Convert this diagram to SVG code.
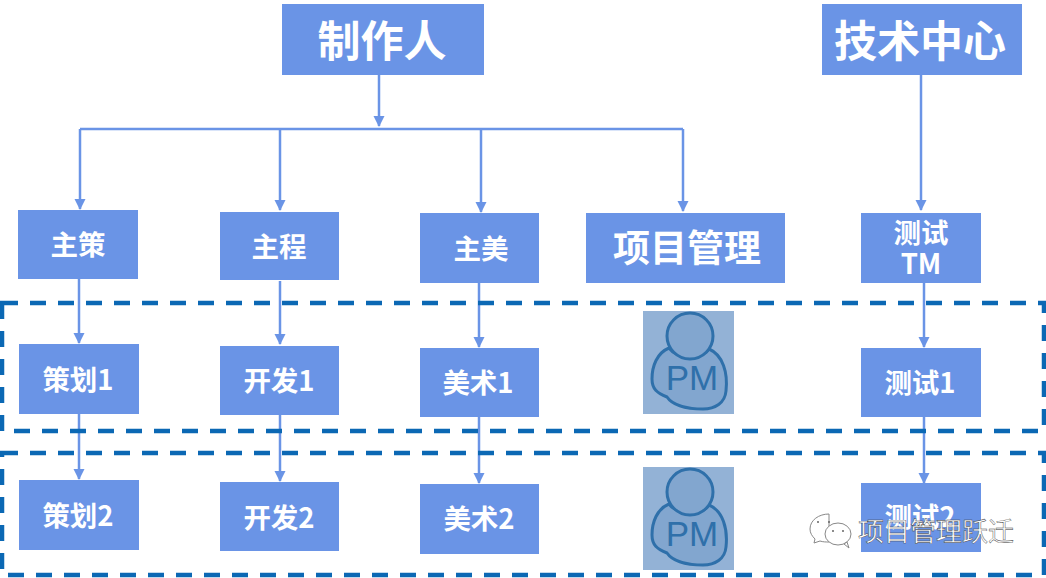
<svg xmlns="http://www.w3.org/2000/svg" width="1046" height="578" viewBox="0 0 1046 578">
<style>
text{font-family:"Noto Sans CJK SC","Liberation Sans",sans-serif;font-weight:700;fill:#fff;text-anchor:middle}
.b{fill:#6a94e6}
.c{fill:none;stroke:#6a94e6;stroke-width:2.5}
.d{fill:none;stroke:#0b68b4;stroke-width:4.5;stroke-dasharray:16 12}
.p{fill:#93b2d6}
.pf{fill:#82a6cf;stroke:#2f70aa;stroke-width:3}
.s{font-size:27.5px}
.w{font-weight:400;fill:#fff;stroke:#333;stroke-width:.4;font-size:26px;text-anchor:start}
</style>
<defs>
<marker id="a" markerUnits="userSpaceOnUse" markerWidth="12" markerHeight="12" refX="10" refY="5.5" orient="auto"><path d="M0 0L11 5.500L0 11Z" fill="#6a94e6"/></marker>
<g id="pmicon">
<rect class="p" x="0" y="0" width="91" height="103"/>
<path class="pf" d="M26 37C14 42 9 55 9 68C9 78 14 82 24 86C30 95 46 98 60 98C72 98 82 92 83 80C85 62 80 44 66 38C60 48 34 48 26 37Z"/>
<circle class="pf" cx="47" cy="25" r="23"/>
<text x="49" y="79" font-size="35" style="fill:#2f70aa;font-weight:400;font-family:'Liberation Sans',sans-serif">PM</text>
</g>
</defs>
<g id="connectors">
<path class="c" d="M379 75V126" marker-end="url(#a)"/>
<path class="c" d="M80 129H683"/>
<path class="c" d="M80 129V209" marker-end="url(#a)"/>
<path class="c" d="M280 129V210" marker-end="url(#a)"/>
<path class="c" d="M481 129V212" marker-end="url(#a)"/>
<path class="c" d="M683 129V211" marker-end="url(#a)"/>
<path class="c" d="M921 75V210" marker-end="url(#a)"/>
<path class="c" d="M79 279V343" marker-end="url(#a)"/>
<path class="c" d="M280 281V344" marker-end="url(#a)"/>
<path class="c" d="M479 283V347" marker-end="url(#a)"/>
<path class="c" d="M924 283V347" marker-end="url(#a)"/>
<path class="c" d="M79 414V479" marker-end="url(#a)"/>
<path class="c" d="M280 415V481" marker-end="url(#a)"/>
<path class="c" d="M479 417V483" marker-end="url(#a)"/>
<path class="c" d="M924 417V483" marker-end="url(#a)"/>
</g>
<g id="producer"><rect class="b" x="282" y="4" width="202" height="71"/><text x="382" y="57" font-size="43">制作人</text></g>
<g id="tech-center"><rect class="b" x="822" y="4" width="200" height="71"/><text x="920" y="57" font-size="43">技术中心</text></g>
<g id="lead-design"><rect class="b" x="18" y="210" width="120" height="69"/><text class="s" x="78" y="255">主策</text></g>
<g id="lead-dev"><rect class="b" x="220" y="212" width="119" height="68"/><text class="s" x="279" y="257">主程</text></g>
<g id="lead-art"><rect class="b" x="420" y="213" width="119" height="70"/><text class="s" x="481" y="259">主美</text></g>
<g id="pm"><rect class="b" x="586" y="213" width="199" height="70"/><text x="687" y="262" font-size="37">项目管理</text></g>
<g id="test-tm"><rect class="b" x="861" y="213" width="120" height="70"/><text class="s" x="921" y="243">测试</text><text class="s" x="921" y="274">TM</text></g>
<g id="design1"><rect class="b" x="19" y="344" width="120" height="70"/><text class="s" x="78" y="390">策划1</text></g>
<g id="dev1"><rect class="b" x="220" y="346" width="119" height="69"/><text class="s" x="279" y="391">开发1</text></g>
<g id="art1"><rect class="b" x="420" y="348" width="119" height="69"/><text class="s" x="478" y="393">美术1</text></g>
<g id="pm1"><use href="#pmicon" x="643" y="311"/></g>
<g id="test1"><rect class="b" x="861" y="348" width="120" height="69"/><text class="s" x="920" y="393">测试1</text></g>
<g id="design2"><rect class="b" x="19" y="480" width="120" height="70"/><text class="s" x="78" y="526">策划2</text></g>
<g id="dev2"><rect class="b" x="220" y="482" width="119" height="69"/><text class="s" x="279" y="528">开发2</text></g>
<g id="art2"><rect class="b" x="420" y="484" width="119" height="70"/><text class="s" x="479" y="529">美术2</text></g>
<g id="pm2"><use href="#pmicon" x="643" y="467"/></g>
<g id="test2"><rect class="b" x="861" y="483" width="120" height="69"/><text class="s" x="920" y="527">测试2</text></g>
<g id="groups">
<rect class="d" x="2" y="303" width="1042" height="128"/>
<rect class="d" x="2" y="453" width="1042" height="122"/>
</g>
<g id="watermark">
<g fill="#fff" stroke="#888" stroke-width="1">
<path d="M829 514C819 514 810 520 810 529C810 533 812 536 815 539L814 543L820 541C823 542 826 542 829 542Z"/>
<ellipse cx="838" cy="534" rx="13" ry="11"/>
<path d="M844 544L849 548L847 542Z"/>
</g>
<g fill="#666"><circle cx="833" cy="531" r="1"/><circle cx="843" cy="531" r="1"/><circle cx="818" cy="522" r="1"/><circle cx="829" cy="522" r="1"/></g>
<text class="w" x="858" y="541">项目管理跃迁</text>
</g>
</svg>
